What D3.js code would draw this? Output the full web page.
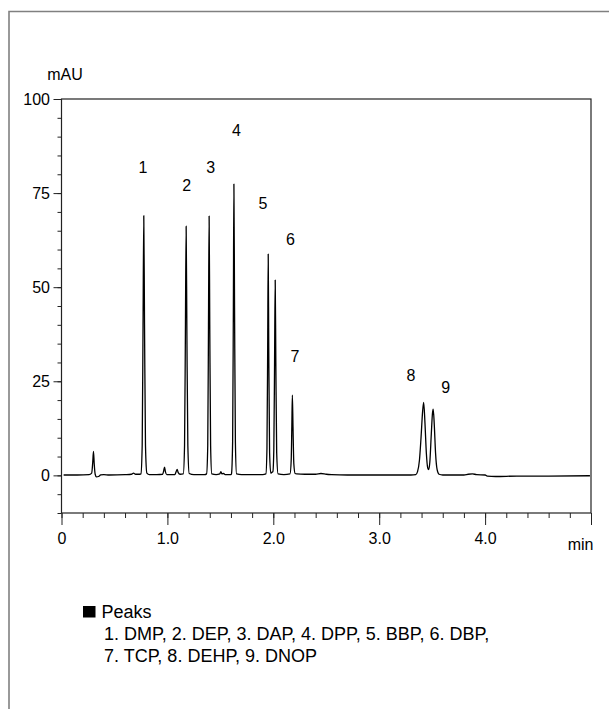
<!DOCTYPE html>
<html>
<head>
<meta charset="utf-8">
<script src="https://cdn.jsdelivr.net/npm/d3@7"></script>
<style>
  body { margin: 0; background: #fff; }
  svg { display: block; font-family: "Liberation Sans", Arial, sans-serif; }
</style>
</head>
<body>
<script>
// chromatogram trace: [min, mAU]
var trace = [
    [0.02, 0.1], [0.15, 0.1], [0.26, 0.2], [0.285, 0.6], [0.295, 3.5], [0.302, 6.4], [0.309, 3.0],
    [0.318, 0.3], [0.33, -0.4], [0.35, -0.3], [0.37, 0.1], [0.40, 0.2], [0.45, 0.1], [0.60, 0.2],
    [0.66, 0.3], [0.68, 0.6], [0.70, 0.3], [0.74, 0.3],
    [0.750, 0.4], [0.762, 8], [0.770, 40], [0.777, 69], [0.784, 40], [0.793, 8], [0.806, 0.6],
    [0.83, 0.2], [0.90, 0.2], [0.955, 0.3], [0.965, 1.2], [0.973, 2.2], [0.981, 1.0], [0.995, 0.2],
    [1.07, 0.2], [1.083, 1.0], [1.092, 1.6], [1.101, 0.8], [1.12, 0.3],
    [1.150, 0.4], [1.162, 8], [1.170, 38], [1.177, 66.2], [1.184, 38], [1.193, 8], [1.206, 0.5],
    [1.25, 0.2], [1.35, 0.2],
    [1.370, 0.4], [1.381, 8], [1.388, 40], [1.394, 68.9], [1.400, 40], [1.408, 8], [1.419, 0.4],
    [1.46, 0.2], [1.495, 0.4], [1.505, 1.0], [1.515, 0.4], [1.53, 0.5], [1.545, 0.2], [1.60, 0.2],
    [1.605, 0.4], [1.616, 9], [1.623, 45], [1.628, 77.4], [1.634, 45], [1.642, 9], [1.653, 0.4],
    [1.70, 0.2], [1.90, 0.2],
    [1.930, 0.4], [1.940, 7], [1.947, 34], [1.952, 58.8], [1.957, 34], [1.965, 6], [1.976, 0.6],
    [1.986, 0.8], [1.996, 1.0], [2.005, 7], [2.012, 30], [2.018, 51.9], [2.024, 30], [2.032, 6],
    [2.045, 0.4], [2.10, 0.2],
    [2.158, 0.4], [2.169, 4], [2.175, 13], [2.180, 21.3], [2.186, 13], [2.194, 3], [2.206, 0.5],
    [2.22, 0.4], [2.30, 0.3], [2.40, 0.3], [2.45, 0.5], [2.50, 0.3], [2.55, 0.2], [2.70, 0.1],
    [3.00, 0.1], [3.30, 0.1],
    [3.345, 0.2], [3.362, 1.0], [3.38, 4], [3.395, 10], [3.41, 17], [3.420, 19.4], [3.432, 14],
    [3.445, 6], [3.458, 2.0], [3.467, 1.5], [3.478, 3.5], [3.492, 11], [3.503, 16.5], [3.510, 17.6],
    [3.520, 13.5], [3.532, 6], [3.547, 1.5], [3.565, 0.3], [3.60, 0.1], [3.80, 0.1], [3.84, 0.3],
    [3.88, 0.4], [3.92, 0.2], [4.00, 0.1], [4.02, -0.2], [4.10, -0.3], [4.30, -0.2], [4.60, -0.2],
    [4.99, -0.1]
];

// peak numbers and where they sit (min, mAU)
var peakLabels = ["1", "2", "3", "4", "5", "6", "7", "8", "9"];
var labelTime  = [0.768, 1.183, 1.408, 1.653, 1.902, 2.163, 2.204, 3.30, 3.627];
var labelValue = [82.0, 77.1, 81.9, 91.8, 72.4, 62.8, 31.7, 26.7, 23.3];

// axis ticks
var xMajor = [0, 1, 2, 3, 4, 5];
var xTickLabels = ["0", "1.0", "2.0", "3.0", "4.0", ""];
var xMinor = d3.range(0, 5.001, 0.2);
var yMajor = [0, 25, 50, 75, 100];
var yMinor = d3.range(-10, 100.001, 5);

var legendTitle = "Peaks";
var legendLines = [
    "1. DMP, 2. DEP, 3. DAP, 4. DPP, 5. BBP, 6. DBP,",
    "7. TCP, 8. DEHP, 9. DNOP"
];

var width = 609;
var height = 709;
var axisFont = 16;
var legendFont = 18;

var svg = d3.select("body")
    .append("svg")
    .attr("width", width)
    .attr("height", height);

// outer frame (top + left only)
svg.append("path")
    .attr("d", "M9,709 L9,11.5 L609,11.5")
    .attr("fill", "none")
    .attr("stroke", "#808080")
    .attr("stroke-width", 1.6);

var x = d3.scaleLinear().domain([0, 5]).range([61.5, 591]);
var y = d3.scaleLinear().domain([-10, 100]).range([513, 99]);

// minor ticks
svg.append("g")
    .attr("transform", "translate(0," + y(-10) + ")")
    .call(d3.axisBottom(x).tickValues(xMinor).tickSize(5).tickFormat(""))
    .call(g => g.select(".domain").remove());
svg.append("g")
    .attr("transform", "translate(" + x(0) + ",0)")
    .call(d3.axisLeft(y).tickValues(yMinor).tickSize(4).tickFormat(""))
    .call(g => g.select(".domain").remove());

// major ticks + labels
var xAxis = svg.append("g")
    .attr("transform", "translate(0," + y(-10) + ")")
    .call(d3.axisBottom(x).tickValues(xMajor).tickSize(12).tickPadding(8)
        .tickFormat((d, i) => xTickLabels[i]));
var yAxis = svg.append("g")
    .attr("transform", "translate(" + x(0) + ",0)")
    .call(d3.axisLeft(y).tickValues(yMajor).tickSize(8).tickPadding(3.5));

[xAxis, yAxis].forEach(a => {
    a.select(".domain").remove();
    a.selectAll("text").attr("font-size", axisFont).attr("fill", "#000")
        .attr("font-family", "Liberation Sans, Arial, sans-serif");
});
svg.selectAll(".tick line").attr("stroke", "#222");

// plot box
svg.append("rect")
    .attr("x", x(0))
    .attr("y", y(100))
    .attr("width", x(5) - x(0))
    .attr("height", y(-10) - y(100))
    .attr("fill", "none")
    .attr("stroke", "#222")
    .attr("stroke-width", 1.2);

// axis titles
svg.append("text")
    .attr("x", 65).attr("y", 79.5)
    .attr("text-anchor", "middle")
    .attr("font-size", axisFont)
    .text("mAU");
svg.append("text")
    .attr("x", 593.5).attr("y", 550)
    .attr("text-anchor", "end")
    .attr("font-size", axisFont)
    .text("min");

// the trace
var line = d3.line()
    .x(d => x(d[0]))
    .y(d => y(d[1]))
    .curve(d3.curveMonotoneX);

svg.append("path")
    .datum(trace)
    .attr("d", line)
    .attr("fill", "none")
    .attr("stroke", "#000")
    .attr("stroke-width", 1.3)
    .attr("stroke-linejoin", "round");

// peak numbers
svg.selectAll(".peaklabel")
    .data(peakLabels)
    .enter()
    .append("text")
    .attr("class", "peaklabel")
    .attr("x", (d, i) => x(labelTime[i]))
    .attr("y", (d, i) => y(labelValue[i]))
    .attr("dy", "0.36em")
    .attr("text-anchor", "middle")
    .attr("font-size", axisFont)
    .text(d => d);

// legend
svg.append("rect")
    .attr("x", 83).attr("y", 606)
    .attr("width", 12.5).attr("height", 11.5)
    .attr("fill", "#000");
svg.append("text")
    .attr("x", 101.5).attr("y", 617.5)
    .attr("font-size", legendFont)
    .text(legendTitle);
svg.selectAll(".legline")
    .data(legendLines)
    .enter()
    .append("text")
    .attr("class", "legline")
    .attr("x", 104)
    .attr("y", (d, i) => 640 + i * 21.7)
    .attr("font-size", legendFont)
    .text(d => d);
</script>
</body>
</html>
